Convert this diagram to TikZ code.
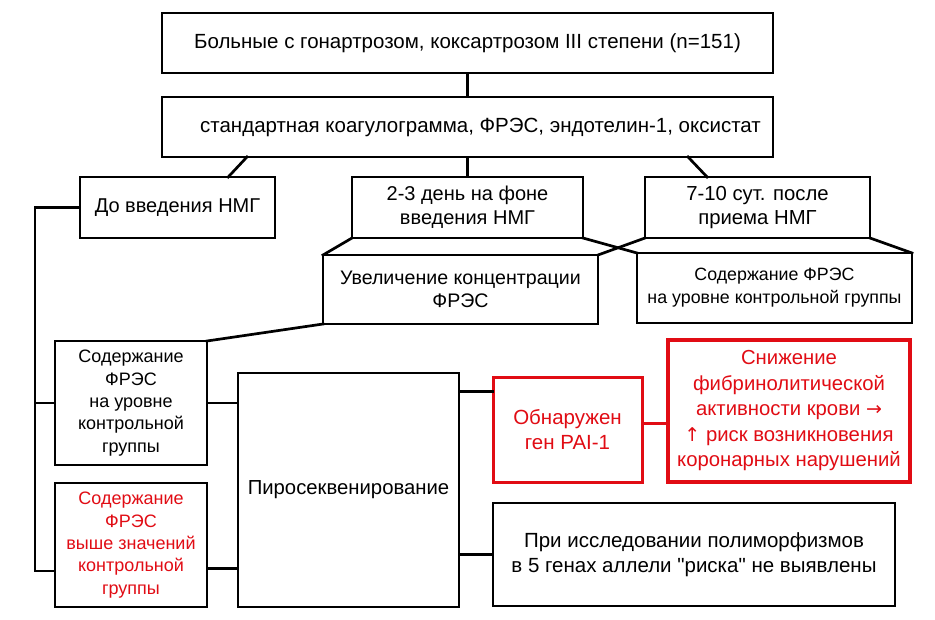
\documentclass[tikz,border=0pt]{standalone}
\usepackage{fontspec}
\setmainfont{Liberation Sans}
\newfontfamily\qfont{Liberation Sans}[Ligatures=TeXOff]
\newfontfamily\symfont{DejaVu Sans}
\usetikzlibrary{calc}
\definecolor{myred}{RGB}{225,12,20}
\begin{document}
\begin{tikzpicture}[x=1pt,y=-1pt,
  box/.style={draw=black,line width=2.7pt,inner sep=0pt,outer sep=0pt,align=center,rectangle},
  redbox/.style={box,draw=myred,text=myred},
  conn/.style={line width=2.7pt,line cap=rect},
]
\useasboundingbox (0,0) rectangle (935,619);
\fill[white] (0,0) rectangle (935,619);

\node[box,minimum width=611pt,minimum height=60pt,font=\fontsize{20.5}{22}\selectfont] (b1) at (467.5,43) {Больные с гонартрозом, коксартрозом III степени (n=151)};
\node[box,minimum width=611pt,minimum height=60pt,font=\fontsize{20.5}{22}\selectfont] (b2) at (467.5,127) {\hspace*{26pt}стандартная коагулограмма, ФРЭС, эндотелин-1, оксистат};

\node[box,minimum width=195pt,minimum height=61pt,font=\fontsize{20}{22}\selectfont] (dnmg) at (177.5,207.5) {До введения НМГ};
\node[box,minimum width=231pt,minimum height=61pt,font=\fontsize{20}{24}\selectfont] (d23) at (467.5,207.5) {2-3 день на фоне\\введения НМГ};
\node[box,minimum width=225pt,minimum height=61pt,font=\fontsize{20.3}{24}\selectfont] (d710) at (757.5,207.5) {7-10 сут. после\\приема НМГ};

\node[box,minimum width=275pt,minimum height=69pt,font=\fontsize{19.6}{23}\selectfont] (uvel) at (460.5,289.5) {Увеличение концентрации\\ФРЭС};
\node[box,minimum width=275pt,minimum height=70pt,font=\fontsize{17.8}{22}\selectfont] (norm) at (774.5,288) {\raisebox{4pt}{\shortstack{Содержание ФРЭС\\[3pt]на уровне контрольной группы}}};

\node[box,minimum width=152pt,minimum height=124pt,font=\fontsize{18}{22.3}\selectfont] (lb1) at (131,403) {Содержание\\ФРЭС\\на уровне\\контрольной\\группы};
\node[box,minimum width=152pt,minimum height=124pt,font=\fontsize{18}{22.3}\selectfont,text=myred] (lb2) at (131,545) {\raisebox{3pt}{\parbox{150pt}{\centering Содержание\\ФРЭС\\выше значений\\контрольной\\группы}}};

\node[box,minimum width=221pt,minimum height=234pt,font=\fontsize{20.3}{24}\selectfont] (piro) at (348.5,490) {\raisebox{4pt}{Пиросеквенирование}};

\node[redbox,line width=3pt,minimum width=149pt,minimum height=105pt,font=\fontsize{20.5}{25}\selectfont] (obn) at (567.5,429.5) {Обнаружен\\ген PAI-1};
\node[redbox,line width=4pt,minimum width=242pt,minimum height=142pt,font=\fontsize{20.3}{25.5}\selectfont] (sniz) at (789,411) {\raisebox{6pt}{\parbox{240pt}{\centering Снижение\\фибринолитической\\активности крови {\symfont\fontsize{19}{20}\selectfont →}\\{\symfont\fontsize{19}{20}\selectfont ↑} риск возникновения\\коронарных нарушений}}};

\node[box,minimum width=402pt,minimum height=103pt,font=\fontsize{20.5}{25}\selectfont] (bot) at (694,554.5) {При исследовании полиморфизмов\\в 5 генах аллели {\qfont"}риска{\qfont"} не выявлены};

% top connectors
\draw[conn] (b1.south) -- (b2.north);
\draw[conn] (b2.south) -- (d23.north);
\draw[conn] ($(b2.south west)!0.139!(b2.south east)$) -- ($(dnmg.north west)!0.76!(dnmg.north east)$);
\draw[conn] ($(b2.south west)!0.861!(b2.south east)$) -- ($(d710.north west)!0.276!(d710.north east)$);

% middle connectors
\draw[conn] (d23.south west) -- (uvel.north west);
\draw[conn] (d23.south east) -- (norm.north west);
\draw[conn] (d710.south west) -- (uvel.north east);
\draw[conn] (d710.south east) -- (norm.north east);
\draw[conn] (uvel.south west) -- (lb1.north east);

% left spine
\coordinate (sp1) at ($(dnmg.west)+(-45pt,0)$);
\coordinate (lb2in) at ($(lb2.north west)!0.71!(lb2.south west)$);
\draw[conn] (dnmg.west) -- (sp1) -- (sp1 |- lb2in) -- (lb2in);
\draw[conn] (sp1 |- lb1.west) -- (lb1.west);

% to piro
\draw[conn] (lb1.east) -- (lb1.east -| piro.west);
\coordinate (lb2out) at ($(lb2.north east)!0.69!(lb2.south east)$);
\draw[conn] (lb2out) -- (lb2out -| piro.west);

% from piro
\coordinate (obnin) at ($(obn.north west)!0.14!(obn.south west)$);
\draw[conn] (obnin -| piro.east) -- (obnin);
\draw[conn] (bot.west -| piro.east) -- (bot.west);
\coordinate (obnout) at ($(obn.north east)!0.44!(obn.south east)$);
\draw[conn,draw=myred,line width=3pt] (obnout) -- (obnout -| sniz.west);
\end{tikzpicture}
\end{document}
